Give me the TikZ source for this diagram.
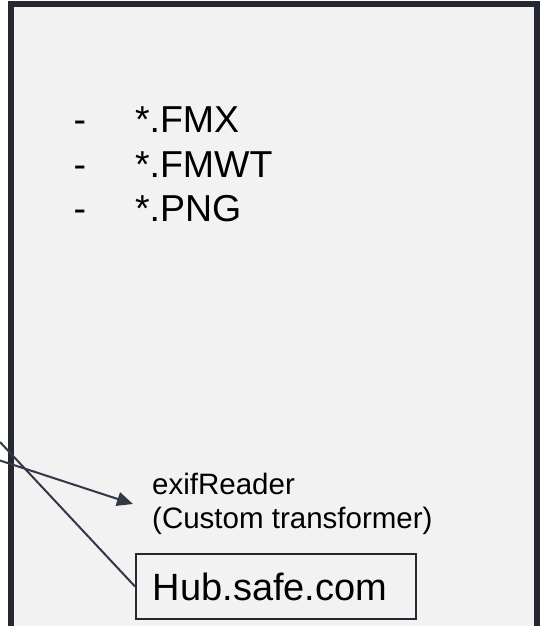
\documentclass[tikz,border=0pt]{standalone}
\usepackage{fontspec}
\setmainfont{Liberation Sans}
\usetikzlibrary{arrows}
\usetikzlibrary{arrows.meta}
\definecolor{frameColor}{RGB}{37,40,50}
\definecolor{wireColor}{RGB}{52,55,70}
\definecolor{panelColor}{RGB}{242,242,242}

\begin{document}
\begin{tikzpicture}[x = 1pt, y = -1pt]
	\tikzstyle{frameStyle}=[draw = frameColor, line width = 6pt, fill = panelColor]
	\tikzstyle{itemStyle}=[inner sep = 0pt, anchor = base west, font = \fontsize{37.5}{45}\selectfont]
	\tikzstyle{readerStyle}=[inner xsep = 19pt, inner ysep = 0pt, anchor = west, align = left, font = \fontsize{29.5}{34}\selectfont]
	\tikzstyle{hubStyle}=[draw = frameColor, line width = 1.5pt, anchor = west, inner xsep = 17pt, text width = 246pt, align = left, minimum height = 65pt, font = \fontsize{38}{45}\selectfont]
	\tikzstyle{linkStyle}=[draw = wireColor, line width = 2pt]
	\useasboundingbox (0,0) rectangle (543,626);
	\clip (0,0) rectangle (543,626);
	\draw[frameStyle] (11,4) rectangle (537,629);
	\node[itemStyle] (fmx) at (73.4,132) {\makebox[61.5pt][l]{-}*.FMX};
	\node[itemStyle] (fmwt) at (73.4,177) {\makebox[61.5pt][l]{-}*.FMWT};
	\node[itemStyle] (png) at (73.4,221) {\makebox[61.5pt][l]{-}*.PNG};
	\node[readerStyle] (exif) at (133,504) {exifReader\\(Custom transformer)};
	\node[hubStyle] (hub) at (135,586.5) {Hub.safe.com};
	\coordinate (srcHub) at (0,442);
	\coordinate (srcExif) at (0,460.5);
	\draw[linkStyle] (srcHub) -- (hub.west);
	\draw[linkStyle, -{Triangle[length = 16pt, width = 14pt]}] (srcExif) -- (exif.west);
\end{tikzpicture}
\end{document}
